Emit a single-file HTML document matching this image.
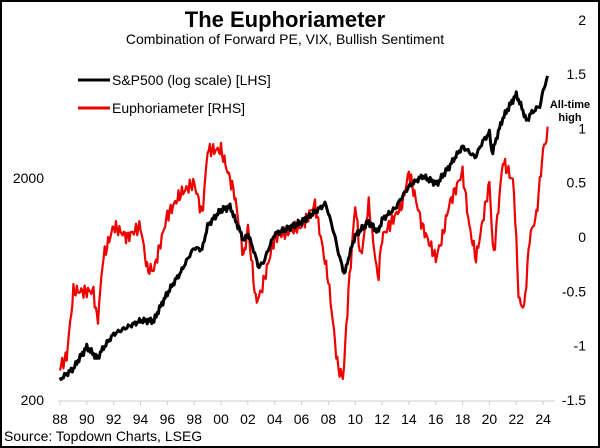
<!DOCTYPE html>
<html><head><meta charset="utf-8"><style>
html,body{margin:0;padding:0;background:#fff}
#c{position:relative;width:596px;height:444px;border:2px solid #000;overflow:hidden;font-family:"Liberation Sans",Arial,sans-serif}
</style></head><body><div id="c">
<svg id="s" width="596" height="444" viewBox="2 2 596 444" style="position:absolute;left:0;top:0">
<text x="285" y="27" font-size="22" font-weight="bold" text-anchor="middle">The Euphoriameter</text>
<text x="285" y="44" font-size="14" text-anchor="middle">Combination of Forward PE, VIX, Bullish Sentiment</text>
<line x1="78" y1="80" x2="110" y2="80" stroke="#000" stroke-width="3"/>
<text x="112" y="85" font-size="14">S&amp;P500 (log scale) [LHS]</text>
<line x1="78" y1="108" x2="110" y2="108" stroke="#e00" stroke-width="3"/>
<text x="112" y="113" font-size="14">Euphoriameter [RHS]</text>
<g font-size="14" text-anchor="end">
<text x="44" y="183">2000</text><text x="44" y="405">200</text>
</g>
<g font-size="14" text-anchor="end" id="ry"></g>
<line x1="58" y1="401" x2="555" y2="401" stroke="#ccc"/>
<g id="xt"></g>
<path id="eu" fill="none" stroke="#e00" stroke-width="2.2" stroke-linejoin="round"/>
<path id="sp" fill="none" stroke="#000" stroke-width="3" stroke-linejoin="round"/>
<text x="570" y="108" font-size="11" font-weight="bold" text-anchor="middle">All-time</text>
<text x="570" y="121" font-size="11" font-weight="bold" text-anchor="middle">high</text>
<text x="4" y="441" font-size="14">Source: Topdown Charts, LSEG</text>
</svg>
<script>
var ns="http://www.w3.org/2000/svg";
function X(t){return 60+(t-1988)*13.42}
var ry=document.getElementById('ry');
[[2,'2'],[1.5,'1.5'],[1,'1'],[0.5,'0.5'],[0,'0'],[-0.5,'-0.5'],[-1,'-1'],[-1.5,'-1.5']].forEach(function(a){var t=document.createElementNS(ns,'text');t.setAttribute('x',586);t.setAttribute('y',237-a[0]*108.6+5);t.textContent=a[1];ry.appendChild(t)});
var xt=document.getElementById('xt');
for(var y=1988;y<=2024;y+=2){var t=document.createElementNS(ns,'text');t.setAttribute('x',X(y));t.setAttribute('y',424);t.setAttribute('font-size',14);t.setAttribute('text-anchor','middle');t.textContent=String(y%100).padStart(2,'0');xt.appendChild(t);
var l=document.createElementNS(ns,'line');l.setAttribute('x1',X(y));l.setAttribute('x2',X(y));l.setAttribute('y1',401);l.setAttribute('y2',405);l.setAttribute('stroke','#ccc');xt.appendChild(l);}
var sp=[[1988,250],[1989,280],[1990,350],[1990.8,310],[1991,330],[1992,400],[1993,430],[1994,460],[1995,460],[1996,610],[1997,760],[1998,980],[1998.6,960],[1999,1230],[2000,1450],[2000.7,1500],[2001,1330],[2001.7,1050],[2002,1130],[2002.8,800],[2003.2,850],[2004,1130],[2005,1200],[2006,1280],[2007,1420],[2007.8,1550],[2008,1400],[2008.8,900],[2009.2,740],[2010,1110],[2011,1280],[2011.7,1150],[2012,1310],[2013,1480],[2014,1850],[2015,2060],[2016.1,1900],[2017,2270],[2018,2800],[2018.95,2500],[2019.5,2950],[2020,3230],[2020.2,2580],[2021,3750],[2022,4800],[2022.8,3600],[2023,3900],[2023.8,4300],[2024,5000],[2024.4,5900]];
var eu=[[1988,-1.2],[1988.5,-1.1],[1989,-0.5],[1990.5,-0.5],[1990.8,-0.8],[1991.2,-0.2],[1992,0.1],[1993,0.0],[1994,0.1],[1994.5,-0.3],[1995,-0.3],[1996,0.2],[1997,0.4],[1998,0.5],[1998.6,0.2],[1999,0.8],[2000,0.8],[2000.5,0.6],[2001,0.4],[2001.7,-0.2],[2002,0.1],[2002.6,-0.6],[2003,-0.5],[2004,0.0],[2005,0.05],[2006,0.1],[2007,0.3],[2008,-0.4],[2008.7,-1.2],[2009.1,-1.3],[2009.5,-0.5],[2010,0.3],[2010.4,-0.2],[2011,0.3],[2011.7,-0.4],[2012,0.0],[2013.5,0.3],[2014,0.6],[2015,0.1],[2016,-0.2],[2016.5,0.0],[2017,0.3],[2018,0.6],[2018.5,0.1],[2019,-0.2],[2020,0.5],[2020.3,-0.2],[2021,0.7],[2021.8,0.5],[2022.2,-0.6],[2022.6,-0.65],[2023,0.0],[2023.5,0.2],[2024,0.8],[2024.4,0.98]];
function interp(d,t){for(var i=0;i<d.length-1;i++){if(t<=d[i+1][0]){var f=(t-d[i][0])/(d[i+1][0]-d[i][0]);return d[i][1]+f*(d[i+1][1]-d[i][1]);}}return d[d.length-1][1]}
var p1='',p2='';
for(var t=1988;t<=2024.41;t+=1/12){
var v=interp(sp,t)*(1+0.02*Math.sin(t*37.1)+0.015*Math.sin(t*91.3));
var y=401-222*Math.log10(v/200);
p1+=(p1?'L':'M')+X(t).toFixed(1)+','+y.toFixed(1);
var e=interp(eu,t)+0.04*Math.sin(t*53.7)+0.03*Math.sin(t*121.1);
p2+=(p2?'L':'M')+X(t).toFixed(1)+','+(237-e*108.6).toFixed(1);}
document.getElementById('sp').setAttribute('d',p1);
document.getElementById('eu').setAttribute('d',p2);
</script>
</div></body></html>
